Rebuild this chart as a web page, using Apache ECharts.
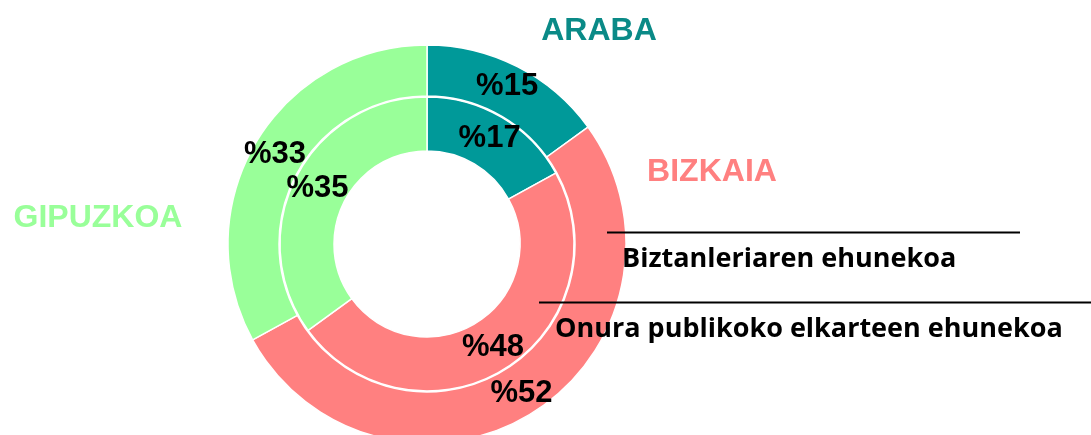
<!DOCTYPE html>
<html>
<head>
<meta charset="utf-8">
<script src="https://cdn.jsdelivr.net/npm/echarts@6/dist/echarts.min.js"></script>
<style>
html,body{margin:0;padding:0;background:#fff;}
#chart{width:1091px;height:435px;}
</style>
</head>
<body>
<div id="chart"></div>
<script>
const categories = ['ARABA', 'BIZKAIA', 'GIPUZKOA'];
const populationPct = [15, 52, 33];      // outer ring: Biztanleriaren ehunekoa
const associationPct = [17, 48, 35];     // inner ring: Onura publikoko elkarteen ehunekoa
const ringNames = ['Biztanleriaren ehunekoa', 'Onura publikoko elkarteen ehunekoa'];
const colors = ['#009999', '#FF8080', '#99FF99'];
const labelColors = ['#0A8A87', '#FF8080', '#99FF99'];

const chart = echarts.init(document.getElementById('chart'));

function ringData(vals) {
  return categories.map((c, i) => ({ name: c, value: vals[i], itemStyle: { color: colors[i] } }));
}

const pctLabel = {
  show: true,
  position: 'inside',
  formatter: p => '%' + p.value,
  fontFamily: 'Liberation Sans, Arial, sans-serif',
  fontWeight: 'bold',
  fontSize: 31,
  color: '#000'
};

const catFont = 'Liberation Sans, Arial, sans-serif';
const noteFont = '"Open Sans", "Noto Sans", sans-serif';

chart.setOption({
  animation: false,
  series: [
    {
      name: ringNames[0],
      type: 'pie',
      center: [427, 244],
      radius: [148, 199],
      startAngle: 90,
      clockwise: true,
      silent: true,
      itemStyle: { borderColor: '#fff', borderWidth: 1.5 },
      label: pctLabel,
      labelLine: { show: false },
      data: ringData(populationPct)
    },
    {
      name: ringNames[1],
      type: 'pie',
      center: [427, 244],
      radius: [93, 147],
      startAngle: 90,
      clockwise: true,
      silent: true,
      itemStyle: { borderColor: '#fff', borderWidth: 1.5 },
      label: pctLabel,
      labelLine: { show: false },
      data: ringData(associationPct)
    }
  ],
  graphic: [
    { type: 'text', z: 100, x: 599, y: 31, style: { text: categories[0], fill: labelColors[0], font: 'bold 32px ' + catFont, align: 'center', verticalAlign: 'middle' } },
    { type: 'text', z: 100, x: 712, y: 172, style: { text: categories[1], fill: labelColors[1], font: 'bold 32px ' + catFont, align: 'center', verticalAlign: 'middle' } },
    { type: 'text', z: 100, x: 98, y: 218, style: { text: categories[2], fill: labelColors[2], font: 'bold 32px ' + catFont, align: 'center', verticalAlign: 'middle' } },
    { type: 'line', z: 100, shape: { x1: 607, y1: 232.5, x2: 1020, y2: 232.5 }, style: { stroke: '#000', lineWidth: 2 } },
    { type: 'line', z: 100, shape: { x1: 539, y1: 302.5, x2: 1091, y2: 302.5 }, style: { stroke: '#000', lineWidth: 2 } },
    { type: 'text', z: 100, x: 622, y: 259, style: { text: ringNames[0], fill: '#000', font: 'bold 27px ' + noteFont, align: 'left', verticalAlign: 'middle' } },
    { type: 'text', z: 100, x: 555, y: 329, style: { text: ringNames[1], fill: '#000', font: 'bold 27px ' + noteFont, align: 'left', verticalAlign: 'middle' } }
  ]
});
</script>
</body>
</html>
